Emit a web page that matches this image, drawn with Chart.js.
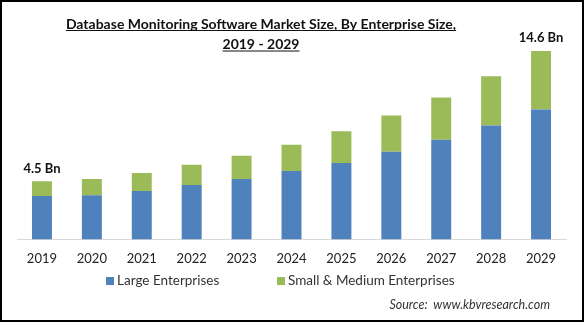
<!DOCTYPE html>
<html>
<head>
<meta charset="utf-8">
<script src="https://cdn.jsdelivr.net/npm/chart.js"></script>
<style>
  html, body { margin: 0; padding: 0; background: #fff; }
  #wrap { width: 584px; height: 322px; }
</style>
</head>
<body>
<div id="wrap"><canvas id="chart" width="584" height="322"></canvas></div>
<script>
const years = ['2019', '2020', '2021', '2022', '2023', '2024', '2025', '2026', '2027', '2028', '2029'];
const largeEnterprises = [3.36, 3.43, 3.75, 4.22, 4.68, 5.31, 5.93, 6.79, 7.73, 8.82, 10.07];
const smallMediumEnterprises = [1.14, 1.25, 1.40, 1.56, 1.80, 2.03, 2.45, 2.81, 3.27, 3.83, 4.53];
const seriesNames = ['Large Enterprises', 'Small & Medium Enterprises'];
const titleLines = ['Database Monitoring Software Market Size, By Enterprise Size,', '2019 - 2029'];
const sourceText = 'Source:  www.kbvresearch.com';
const labelledYears = ['2019', '2029'];

const BLUE = '#4f81bd';
const GREEN = '#9bbb59';
const FONT = 'Lato, "Open Sans", sans-serif';

// title, legend, value labels, source line and frame
const decorations = {
  id: 'decorations',
  afterDraw(chart) {
    const ctx = chart.ctx;
    const xs = chart.scales.x;
    const ys = chart.scales.y;
    ctx.save();

    // title, underlined
    ctx.fillStyle = '#111';
    ctx.strokeStyle = '#111';
    ctx.font = 'bold 14px ' + FONT;
    ctx.textAlign = 'center';
    ctx.textBaseline = 'alphabetic';
    const titleX = 261;
    [28.5, 49].forEach((base, i) => {
      ctx.fillText(titleLines[i], titleX, base);
      const w = ctx.measureText(titleLines[i]).width;
      ctx.lineWidth = 1;
      ctx.beginPath();
      ctx.moveTo(titleX - w / 2, base + 2);
      ctx.lineTo(titleX + w / 2, base + 2);
      ctx.stroke();
    });

    // total labels over first and last bar
    ctx.font = 'bold 13px ' + FONT;
    ctx.fillStyle = '#111';
    ctx.textBaseline = 'middle';
    labelledYears.forEach(year => {
      const i = years.indexOf(year);
      const total = largeEnterprises[i] + smallMediumEnterprises[i];
      const x = xs.getPixelForValue(i);
      const y = ys.getPixelForValue(total);
      ctx.fillText(total.toFixed(1) + ' Bn', x, y - 13);
    });

    // legend
    ctx.font = '13.5px ' + FONT;
    ctx.textAlign = 'left';
    const legendX = [106, 277];
    chart.data.datasets.forEach((ds, i) => {
      ctx.fillStyle = ds.backgroundColor;
      ctx.fillRect(legendX[i], 277, 8, 8);
      ctx.fillStyle = '#333';
      ctx.fillText(ds.label, legendX[i] + 11, 281);
    });

    // source
    ctx.font = 'italic 12.5px ' + FONT;
    ctx.textAlign = 'right';
    ctx.fillStyle = '#333';
    ctx.fillText(sourceText, 550, 305);

    // outer frame
    ctx.strokeStyle = '#000';
    ctx.lineWidth = 2;
    ctx.strokeRect(1, 1, chart.width - 2, chart.height - 2);
    ctx.restore();
  }
};

new Chart(document.getElementById('chart'), {
  type: 'bar',
  data: {
    labels: years,
    datasets: [
      { label: seriesNames[0], data: largeEnterprises, backgroundColor: BLUE },
      { label: seriesNames[1], data: smallMediumEnterprises, backgroundColor: GREEN }
    ]
  },
  options: {
    responsive: false,
    animation: false,
    devicePixelRatio: 1,
    categoryPercentage: 1,
    barPercentage: 0.4,
    layout: { padding: { left: 17, right: 18, top: 33, bottom: 51 } },
    scales: {
      x: {
        stacked: true,
        grid: { display: false },
        border: { display: true, color: '#d9d9d9', width: 1 },
        ticks: { color: '#222', font: { family: FONT, size: 13 }, padding: 4 }
      },
      y: { stacked: true, display: false, min: 0, max: 16 }
    },
    plugins: {
      legend: { display: false },
      tooltip: { enabled: false }
    }
  },
  plugins: [decorations]
});
</script>
</body>
</html>
